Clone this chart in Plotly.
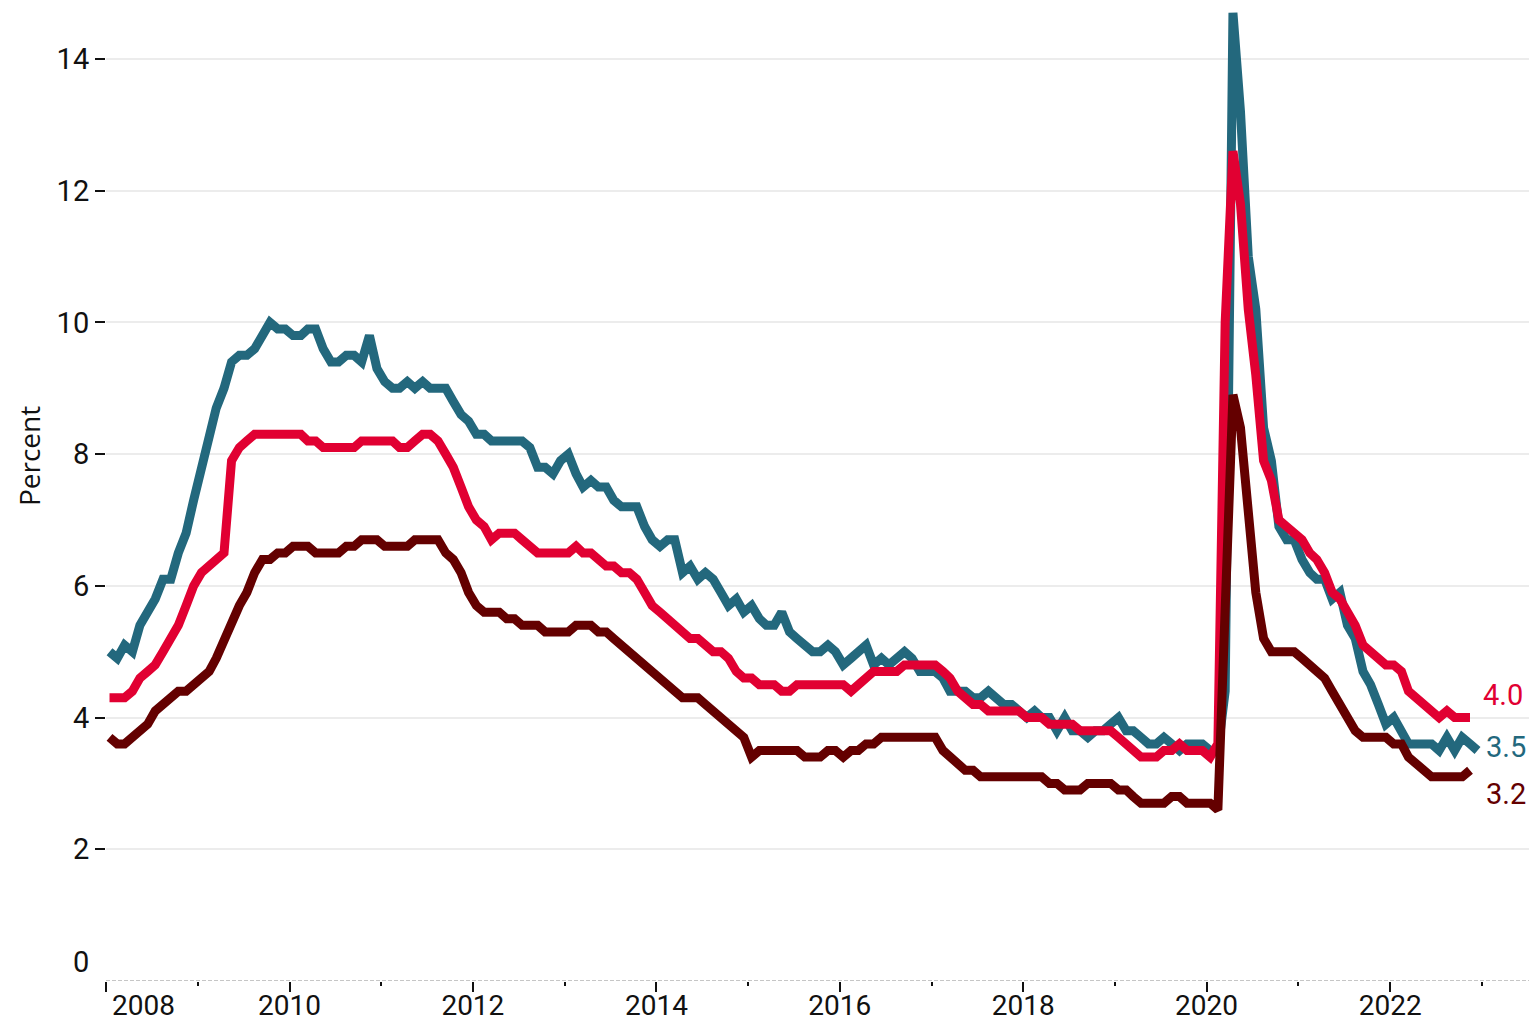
import pandas as pd
import plotly.graph_objects as go

# ---------------- data (monthly, Jan 2008 onward) ----------------
start_month = "2008-01-01"

blue_values = [
    5.0, 4.9, 5.1, 5.0, 5.4, 5.6, 5.8, 6.1, 6.1, 6.5, 6.8, 7.3,   # 2008
    7.8, 8.3, 8.7, 9.0, 9.4, 9.5, 9.5, 9.6, 9.8, 10.0, 9.9, 9.9,  # 2009
    9.8, 9.8, 9.9, 9.9, 9.6, 9.4, 9.4, 9.5, 9.5, 9.4, 9.8, 9.3,   # 2010
    9.1, 9.0, 9.0, 9.1, 9.0, 9.1, 9.0, 9.0, 9.0, 8.8, 8.6, 8.5,   # 2011
    8.3, 8.3, 8.2, 8.2, 8.2, 8.2, 8.2, 8.1, 7.8, 7.8, 7.7, 7.9,   # 2012
    8.0, 7.7, 7.5, 7.6, 7.5, 7.5, 7.3, 7.2, 7.2, 7.2, 6.9, 6.7,   # 2013
    6.6, 6.7, 6.7, 6.2, 6.3, 6.1, 6.2, 6.1, 5.9, 5.7, 5.8, 5.6,   # 2014
    5.7, 5.5, 5.4, 5.4, 5.6, 5.3, 5.2, 5.1, 5.0, 5.0, 5.1, 5.0,   # 2015
    4.8, 4.9, 5.0, 5.1, 4.8, 4.9, 4.8, 4.9, 5.0, 4.9, 4.7, 4.7,   # 2016
    4.7, 4.6, 4.4, 4.4, 4.4, 4.3, 4.3, 4.4, 4.3, 4.2, 4.2, 4.1,   # 2017
    4.0, 4.1, 4.0, 4.0, 3.8, 4.0, 3.8, 3.8, 3.7, 3.8, 3.8, 3.9,   # 2018
    4.0, 3.8, 3.8, 3.7, 3.6, 3.6, 3.7, 3.6, 3.5, 3.6, 3.6, 3.6,   # 2019
    3.5, 3.5, 4.4, 14.7, 13.2, 11.0, 10.2, 8.4, 7.9, 6.9, 6.7, 6.7,  # 2020
    6.4, 6.2, 6.1, 6.1, 5.8, 5.9, 5.4, 5.2, 4.7, 4.5, 4.2, 3.9,   # 2021
    4.0, 3.8, 3.6, 3.6, 3.6, 3.6, 3.5, 3.7, 3.5, 3.7, 3.6, 3.5,   # 2022
]

red_values = [
    4.3, 4.3, 4.3, 4.4, 4.6, 4.7, 4.8, 5.0, 5.2, 5.4, 5.7, 6.0,   # 2008
    6.2, 6.3, 6.4, 6.5, 7.9, 8.1, 8.2, 8.3, 8.3, 8.3, 8.3, 8.3,   # 2009
    8.3, 8.3, 8.2, 8.2, 8.1, 8.1, 8.1, 8.1, 8.1, 8.2, 8.2, 8.2,   # 2010
    8.2, 8.2, 8.1, 8.1, 8.2, 8.3, 8.3, 8.2, 8.0, 7.8, 7.5, 7.2,   # 2011
    7.0, 6.9, 6.7, 6.8, 6.8, 6.8, 6.7, 6.6, 6.5, 6.5, 6.5, 6.5,   # 2012
    6.5, 6.6, 6.5, 6.5, 6.4, 6.3, 6.3, 6.2, 6.2, 6.1, 5.9, 5.7,   # 2013
    5.6, 5.5, 5.4, 5.3, 5.2, 5.2, 5.1, 5.0, 5.0, 4.9, 4.7, 4.6,   # 2014
    4.6, 4.5, 4.5, 4.5, 4.4, 4.4, 4.5, 4.5, 4.5, 4.5, 4.5, 4.5,   # 2015
    4.5, 4.4, 4.5, 4.6, 4.7, 4.7, 4.7, 4.7, 4.8, 4.8, 4.8, 4.8,   # 2016
    4.8, 4.7, 4.6, 4.4, 4.3, 4.2, 4.2, 4.1, 4.1, 4.1, 4.1, 4.1,   # 2017
    4.0, 4.0, 4.0, 3.9, 3.9, 3.9, 3.9, 3.8, 3.8, 3.8, 3.8, 3.8,   # 2018
    3.7, 3.6, 3.5, 3.4, 3.4, 3.4, 3.5, 3.5, 3.6, 3.5, 3.5, 3.5,   # 2019
    3.4, 3.6, 10.0, 12.6, 11.8, 10.2, 9.2, 7.9, 7.6, 7.0, 6.9, 6.8,  # 2020
    6.7, 6.5, 6.4, 6.2, 5.9, 5.8, 5.6, 5.4, 5.1, 5.0, 4.9, 4.8,   # 2021
    4.8, 4.7, 4.4, 4.3, 4.2, 4.1, 4.0, 4.1, 4.0, 4.0, 4.0,        # 2022 (Jan-Nov)
]

darkred_values = [
    3.7, 3.6, 3.6, 3.7, 3.8, 3.9, 4.1, 4.2, 4.3, 4.4, 4.4, 4.5,   # 2008
    4.6, 4.7, 4.9, 5.2, 5.4, 5.7, 5.9, 6.2, 6.4, 6.4, 6.5, 6.5,   # 2009
    6.6, 6.6, 6.6, 6.5, 6.5, 6.5, 6.5, 6.6, 6.6, 6.7, 6.7, 6.7,   # 2010
    6.6, 6.6, 6.6, 6.6, 6.7, 6.7, 6.7, 6.7, 6.5, 6.4, 6.2, 5.9,   # 2011
    5.7, 5.6, 5.6, 5.6, 5.5, 5.5, 5.4, 5.4, 5.4, 5.3, 5.3, 5.3,   # 2012
    5.3, 5.4, 5.4, 5.4, 5.3, 5.3, 5.2, 5.1, 5.0, 4.9, 4.8, 4.7,   # 2013
    4.6, 4.5, 4.4, 4.3, 4.3, 4.3, 4.2, 4.1, 4.0, 3.9, 3.8, 3.7,   # 2014
    3.4, 3.5, 3.5, 3.5, 3.5, 3.5, 3.5, 3.4, 3.4, 3.4, 3.5, 3.5,   # 2015
    3.4, 3.5, 3.5, 3.6, 3.6, 3.7, 3.7, 3.7, 3.7, 3.7, 3.7, 3.7,   # 2016
    3.7, 3.5, 3.4, 3.3, 3.2, 3.2, 3.1, 3.1, 3.1, 3.1, 3.1, 3.1,   # 2017
    3.1, 3.1, 3.1, 3.0, 3.0, 2.9, 2.9, 2.9, 3.0, 3.0, 3.0, 3.0,   # 2018
    2.9, 2.9, 2.8, 2.7, 2.7, 2.7, 2.7, 2.8, 2.8, 2.7, 2.7, 2.7,   # 2019
    2.7, 2.6, 5.5, 8.9, 8.4, 7.0, 5.9, 5.2, 5.0, 5.0, 5.0, 5.0,   # 2020
    4.9, 4.8, 4.7, 4.6, 4.4, 4.2, 4.0, 3.8, 3.7, 3.7, 3.7, 3.7,   # 2021
    3.6, 3.6, 3.4, 3.3, 3.2, 3.1, 3.1, 3.1, 3.1, 3.1, 3.2,        # 2022 (Jan-Nov)
]

major_years = [2008, 2010, 2012, 2014, 2016, 2018, 2020, 2022]
minor_years = [2009, 2011, 2013, 2015, 2017, 2019, 2021, 2023]
y_ticks = [2, 4, 6, 8, 10, 12, 14]
y_title = "Percent"

# ---------------- styles ----------------
BLUE = "#23687d"
RED = "#e10032"
DARK = "#640000"
INK = "#111111"
FONT = "Roboto"
TICK_SIZE = 29
XTICK_SIZE = 28


def month_dates(n):
    # points sit at mid-month
    return pd.date_range(start_month, periods=n, freq="MS") + pd.Timedelta(days=14)


fig = go.Figure()
series = [(blue_values, BLUE), (red_values, RED), (darkred_values, DARK)]
for vals, col in series:
    fig.add_trace(go.Scatter(
        x=month_dates(len(vals)), y=vals, mode="lines",
        line=dict(color=col, width=9, shape="linear"),
        hoverinfo="skip", showlegend=False,
    ))

# end-of-series value labels
label_offsets = {BLUE: (6, 3), RED: (11, 23), DARK: (14, -24)}
for vals, col in series:
    xs = month_dates(len(vals))
    dx, dy = label_offsets[col]
    fig.add_annotation(
        x=xs[-1], y=vals[-1], xref="x", yref="y", text=f"{vals[-1]:.1f}",
        showarrow=False, xanchor="left", yanchor="middle", xshift=dx, yshift=dy,
        font=dict(family=FONT, size=TICK_SIZE, color=col),
    )

# baseline (dashed)
fig.add_shape(type="line", xref="paper", yref="y", x0=0, x1=1, y0=0, y1=0,
              line=dict(color="#b4b4b4", width=1.5, dash="4px,2px"), layer="below")

# "0" label sits above the baseline
fig.add_annotation(xref="paper", yref="y", x=0, y=0, text="0", showarrow=False,
                   xanchor="right", yanchor="middle", xshift=-15, yshift=19,
                   font=dict(family=FONT, size=TICK_SIZE, color=INK))

# first year label is nudged right of its tick
fig.add_annotation(xref="x", yref="paper", x=f"{major_years[0]}-01-01", y=0,
                   text=str(major_years[0]), showarrow=False,
                   xanchor="left", yanchor="top", xshift=4, yshift=-6,
                   font=dict(family=FONT, size=XTICK_SIZE, color=INK))

# y axis title
fig.add_annotation(xref="paper", yref="y", x=0, y=7.97, text=y_title, showarrow=False,
                   textangle=-90, xanchor="center", yanchor="middle", xshift=-77,
                   font=dict(family="Open Sans", size=28, color=INK))

# figure sits inside the page's 8px body margin
fig.update_layout(
    width=1521, height=1013,
    margin=dict(l=98, r=0, t=0, b=40, autoexpand=False),
    paper_bgcolor="white", plot_bgcolor="white",
    font=dict(family=FONT, size=TICK_SIZE, color=INK),
    xaxis=dict(
        type="date",
        range=["2008-01-01", "2023-07-08"],
        tickmode="array",
        tickvals=[f"{y}-01-01" for y in major_years],
        ticktext=[""] + [str(y) for y in major_years[1:]],
        tickfont=dict(size=XTICK_SIZE),
        ticks="outside", ticklen=10, tickwidth=2, tickcolor=INK,
        ticklabelstandoff=-11,
        showgrid=False, zeroline=False, showline=False, automargin=False,
        minor=dict(tickmode="array", tickvals=[f"{y}-01-01" for y in minor_years],
                   ticks="outside", ticklen=4, tickwidth=2, tickcolor=INK,
                   showgrid=False),
        fixedrange=True,
    ),
    yaxis=dict(
        range=[0, 14.774],
        tickmode="array", tickvals=y_ticks, ticktext=[str(v) for v in y_ticks],
        ticks="outside", ticklen=10, tickwidth=2, tickcolor=INK,
        showgrid=True, gridcolor="#ececec", gridwidth=2,
        zeroline=False, showline=False, automargin=False, fixedrange=True,
    ),
)

fig.write_html("out.html")
